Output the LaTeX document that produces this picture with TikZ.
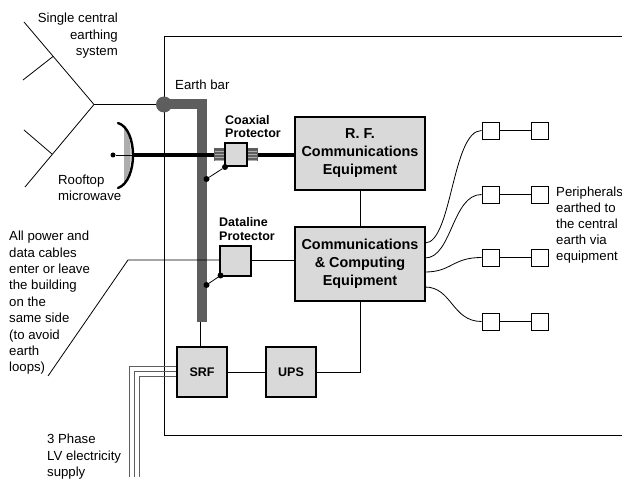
\documentclass[tikz,border=0pt]{standalone}
\usepackage{xcolor}
\usepackage{fontspec}
\setmainfont{Liberation Sans}

\begin{document}
\begin{tikzpicture}[x = 1pt,
                    y = -1pt,
                    font = \fontsize{13.2}{15}\selectfont]

  \useasboundingbox (0, 0) rectangle (622, 481);

  % COLORS
  \definecolor{barcolor}{rgb}{ 0.37,0.37,0.37 }
  \definecolor{boxcolor}{rgb}{ 0.85,0.85,0.85 }
  \definecolor{dishcolor}{rgb}{ 0.68,0.68,0.68 }

  % STYLES
  \tikzstyle{wirestyle} = [draw=black, line width=0.8 pt]
  \tikzstyle{phasestyle} = [draw=barcolor, line width=1 pt]
  \tikzstyle{barstyle} = [draw=barcolor, line width=10 pt]
  \tikzstyle{equipstyle} = [draw=black, fill=boxcolor, line width=1.8 pt, inner sep=0 pt, align=center, font=\fontsize{14.4}{18}\selectfont\bfseries]
  \tikzstyle{peripheralstyle} = [draw=black, fill=white, line width=0.8 pt, inner sep=0 pt, minimum width=17 pt, minimum height=17 pt]
  \tikzstyle{dotstyle} = [circle, fill=black, inner sep=0 pt, minimum size=6 pt]
  \tikzstyle{textstyle} = [inner sep=0 pt, align=left, anchor=north west]
  \tikzstyle{boldstyle} = [textstyle, font=\fontsize{12.5}{13.5}\selectfont\bfseries]

  % BUILDING
  \coordinate (b0) at (622, 36);
  \coordinate (b1) at (164, 36);
  \coordinate (b2) at (164, 435);
  \coordinate (b3) at (622, 435);
  \draw[wirestyle] (b0) -- (b1) -- (b2) -- (b3);

  % EARTHING SYSTEM
  \coordinate (e_apex) at (94, 104.5);
  \coordinate (e_top) at (24, 22);
  \coordinate (e_bot) at (25, 187);
  \coordinate (e_j1) at (53, 56.5);
  \coordinate (e_j2) at (52, 154);
  \coordinate (e_b1) at (23, 80);
  \coordinate (e_b2) at (24, 130);
  \node[circle, fill=barcolor, inner sep=0 pt, minimum size=16 pt] (e_hub) at (164, 104.5) {};
  \coordinate (bar_corner) at (201.5, 106);
  \coordinate (bar_end) at (201.5, 322);
  \coordinate (bar_tap) at (200, 322);
  \draw[wirestyle] (e_top) -- (e_apex) -- (e_bot);
  \draw[wirestyle] (e_j1) -- (e_b1);
  \draw[wirestyle] (e_j2) -- (e_b2);
  \draw[wirestyle] (e_apex) -- (e_hub);
  \draw[barstyle] (e_hub.center) -- (e_hub.center -| bar_corner) -- (bar_end);

  % DISH
  \coordinate (d_top) at (118, 123);
  \coordinate (d_mid) at (133, 155);
  \coordinate (d_bot) at (118, 188);
  \fill[dishcolor] (124, 125) .. controls (133, 135) and (133, 175) .. (124, 186) -- cycle;
  \draw[black, line width=2.4 pt, line cap=round] (d_top) .. controls (138, 129) and (138, 181) .. (d_bot);
  \node[dotstyle, minimum size=5 pt] (d_feed) at (113, 155) {};

  % MAIN BOXES
  \node[equipstyle, minimum width=130 pt, minimum height=73 pt] (rf_box) at (360, 153.5) {R. F.\\Communications\\Equipment};
  \node[equipstyle, minimum width=130 pt, minimum height=74 pt] (comm_box) at (360, 264) {Communications\\\& Computing\\Equipment};
  \node[equipstyle, font=\fontsize{12.5}{15}\selectfont\bfseries, minimum width=50 pt, minimum height=50 pt] (srf_box) at (202, 372) {SRF};
  \node[equipstyle, font=\fontsize{12.5}{15}\selectfont\bfseries, minimum width=50 pt, minimum height=50 pt] (ups_box) at (291, 372) {UPS};
  \node[equipstyle, line width=1.4 pt, minimum width=31 pt, minimum height=30 pt] (data_box) at (235.5, 261) {};

  % COAXIAL PROTECTOR
  \foreach \cx in {219.5, 252} {
    \fill[barcolor] (\cx-5.5, 148) rectangle (\cx+5.5, 161);
    \foreach \cy in {151, 154, 157, 160}
      \draw[dishcolor, line width=0.5 pt] (\cx-5, \cy) -- (\cx+5, \cy);
  }
  \node[equipstyle, line width=1.2 pt, minimum width=22 pt, minimum height=23 pt] (coax_box) at (236, 154.5) {};

  % FEEDS
  \coordinate (coax_l) at (214, 155);
  \coordinate (coax_r) at (258, 155);
  \draw[wirestyle] (d_feed) -- (d_mid);
  \draw[black, line width=3.6 pt] (d_mid) -- (coax_l);
  \draw[black, line width=3.6 pt] (coax_r) -- (coax_r -| rf_box.west);

  % EARTH DOTS
  \node[dotstyle] (c_dot1) at (225, 167) {};
  \node[dotstyle] (c_dot2) at (206.5, 179) {};
  \node[dotstyle] (l_dot1) at (220.5, 275.5) {};
  \node[dotstyle] (l_dot2) at (206.5, 285) {};
  \draw[wirestyle] (c_dot1) -- (c_dot2);
  \draw[wirestyle] (l_dot1) -- (l_dot2);

  % WIRES
  \coordinate (cable_in) at (128, 260);
  \coordinate (cable_end) at (48, 376);
  \draw[wirestyle] (cable_end) -- (cable_in) -- (cable_in -| data_box.west);
  \draw[wirestyle] (data_box.east |- cable_in) -- (cable_in -| comm_box.west);
  \draw[wirestyle] (rf_box) -- (comm_box);
  \draw[wirestyle] (srf_box) -- (ups_box);
  \draw[wirestyle, line width=1 pt] (bar_tap) -- (bar_tap |- srf_box.north);
  \draw[wirestyle] (ups_box) -| (comm_box);

  % THREE PHASE
  \foreach \px/\py in {129/367, 134/372, 139/377}
    \draw[phasestyle] (\px, 477) -- (\px, \py) -- (srf_box.west |- 0, \py);

  % PERIPHERALS
  \foreach \i/\py/\sy in {1/130.5/243, 2/194.5/258, 3/257.5/272, 4/321.5/287} {
    \node[peripheralstyle] (p\i_a) at (490.5, \py) {};
    \node[peripheralstyle] (p\i_b) at (539.5, \py) {};
    \coordinate (s\i) at (425, \sy);
    \draw[wirestyle] (p\i_a) -- (p\i_b);
    \draw[wirestyle] (s\i) .. controls (452, \sy) and (452, \py) .. (p\i_a.west);
  }

  % LABELS
  \node[textstyle, align=right, anchor=north east, font=\fontsize{13.2}{16.5}\selectfont] (earth_label) at (118, 13) {Single central\\earthing\\system};
  \node[textstyle, font=\fontsize{13.2}{15.5}\selectfont] (dish_label) at (58, 175) {Rooftop\\microwave};
  \node[textstyle] (bar_label) at (175, 80) {Earth bar};
  \node[boldstyle] (coax_label) at (225, 115) {Coaxial\\Protector};
  \node[boldstyle, font=\fontsize{12.5}{14}\selectfont\bfseries] (data_label) at (219, 217.5) {Dataline\\Protector};
  \node[textstyle, font=\fontsize{13.2}{16.4}\selectfont] (cable_label) at (9, 231) {All power and\\data cables\\enter or leave\\the building\\on the\\same side\\(to avoid\\earth\\loops)};
  \node[textstyle, font=\fontsize{13.2}{16}\selectfont] (periph_label) at (556, 187) {Peripherals\\earthed to\\the central\\earth via\\equipment};
  \node[textstyle, font=\fontsize{13.2}{16.5}\selectfont] (supply_label) at (47, 434) {3 Phase\\LV electricity\\supply};

\end{tikzpicture}
\end{document}
